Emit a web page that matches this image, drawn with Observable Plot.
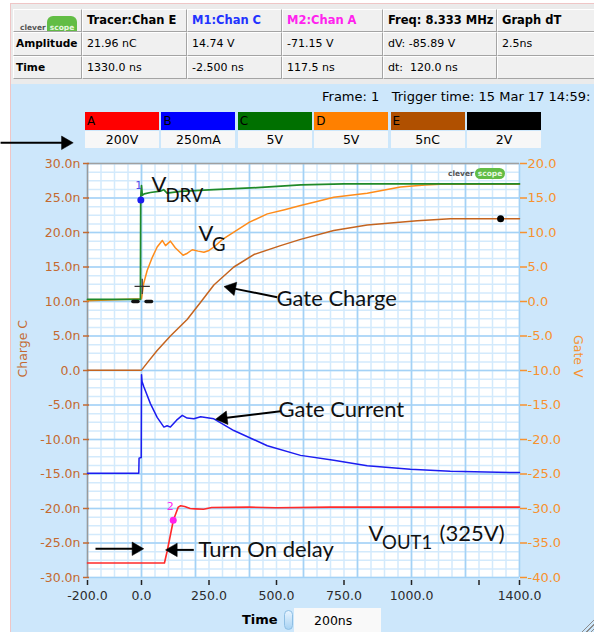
<!DOCTYPE html>
<html><head><meta charset="utf-8">
<script src="https://cdn.jsdelivr.net/npm/d3@7"></script>
<script src="https://cdn.jsdelivr.net/npm/@observablehq/plot@0.6"></script>
<style>
body{margin:0;background:#fff;}
#root{position:relative;width:594px;height:632px;overflow:hidden;font-family:"DejaVu Sans",sans-serif;color:#000;}
.abs{position:absolute;box-sizing:border-box;}
.cell{position:absolute;box-sizing:border-box;background:#f0f0f0;border-right:1px solid #a4a4a4;border-bottom:1px solid #a4a4a4;border-left:1px solid #fff;border-top:1px solid #fff;font-size:11px;white-space:pre;padding-left:4px;overflow:hidden;}
.logo{position:absolute;display:flex;align-items:center;font-family:"DejaVu Sans",sans-serif;font-weight:bold;font-size:7.5px;}
.logo .c{color:#555;padding-right:1px;}
.logo .s{background:#62bd45;color:#e8f7e0;border-radius:6px;padding:1px 3px;}
</style></head>
<body><div id="root">
<div class="abs" style="left:10px;top:3px;width:584px;height:81px;background:#ebebeb;border-top:1px solid #efc6c6;border-left:1px solid #efc6c6;"></div>
<div class="abs" style="left:10px;top:84px;width:584px;height:548px;background:#cde7fb;border-left:1px solid #efc6c6;"></div>
<div id="table"></div>
<div class="abs" id="frametext" style="left:322px;top:89px;font-size:13px;white-space:pre;"></div>
<div id="legend"></div>
<div id="plot" class="abs" style="left:0;top:0;"></div>
<div class="logo" style="left:448px;top:168px;"><span class="c">clever</span><span class="s">scope</span></div>
<div class="abs" style="left:242px;top:612px;font-weight:bold;font-size:13px;">Time</div>
<div class="abs" style="left:284px;top:610px;width:9px;height:20px;border-radius:5px;background:linear-gradient(#e8f4ff,#a9d3f3);border:1px solid #8fbfe4;"></div>
<div class="abs" style="left:294px;top:608px;width:87px;height:26px;background:#f9f9f9;"></div>
<div class="abs" style="left:314px;top:613px;font-size:12.5px;">200ns</div>
<div class="abs" style="left:580px;top:618px;width:14px;height:14px;background:repeating-linear-gradient(135deg,transparent 0 2px,#8a8a8a 2px 3px);clip-path:polygon(100% 0,100% 100%,0 100%);"></div>
</div>
<script>
// ---------- table / legend text ----------
const tableHead = ["", "Tracer:Chan E", "M1:Chan C", "M2:Chan A", "Freq: 8.333 MHz", "Graph dT"];
const tableAmp  = ["Amplitude", "21.96 nC", "14.74 V", "-71.15 V", "dV: -85.89 V", "2.5ns"];
const tableTime = ["Time", "1330.0 ns", "-2.500 ns", "117.5 ns", "dt:  120.0 ns", ""];
const frameInfo = "Frame: 1   Trigger time: 15 Mar 17 14:59:";
const channelLetters = ["A", "B", "C", "D", "E", ""];
const channelScales = ["200V", "250mA", "5V", "5V", "5nC", "2V"];

// ---------- axes ----------
const xTicks = [-200, 0, 250, 500, 750, 1000, 1250, 1400];
const yTicks = [-30, -25, -20, -15, -10, -5, 0, 5, 10, 15, 20, 25, 30];

// ---------- traces (time ns, value in left-axis units) ----------
// C: V_DRV (green)
const tDrv = [-200, -4, -3, 0, 3, 10, 33, 70, 82, 95, 144, 268, 428, 590, 750, 1400];
const vDrv = [10.3, 10.3, 25.0, 26.8, 25.4, 25.6, 25.8, 26.0, 26.2, 25.7, 25.95, 26.2, 26.5, 26.9, 27.05, 27.05];
// D: V_G (orange)
const tVg = [-200, 0, 8, 21, 40, 58, 77, 89, 100, 107, 125, 154, 170, 188, 210, 231, 250, 268, 300, 342, 400, 466, 530, 589, 650, 712, 836, 959, 1050, 1107, 1400];
const vVg = [10.1, 10.4, 12.6, 14.5, 16.4, 17.9, 18.85, 18.1, 18.5, 18.75, 17.8, 16.7, 17.0, 17.5, 17.3, 17.15, 17.4, 17.9, 19.0, 20.05, 21.5, 22.7, 23.3, 23.9, 24.5, 25.1, 25.7, 26.6, 26.9, 27.0, 27.0];
// E: Gate charge (brown)
const tQg = [-200, 0, 27, 58, 107, 169, 219, 268, 342, 416, 515, 589, 712, 836, 1021, 1144, 1400];
const vQg = [0.05, 0.05, 1.4, 2.9, 5.0, 7.4, 9.9, 12.4, 15.0, 16.8, 18.1, 19.0, 20.3, 21.1, 21.7, 22.0, 22.0];
// B: Gate current (blue)
const tIg = [-200, -10, -9, -1, 0, 2, 9, 33, 58, 83, 95, 107, 130, 151, 169, 194, 219, 268, 342, 466, 589, 712, 836, 996, 1144, 1400];
const vIg = [-14.9, -14.9, -12.7, -12.6, -0.6, -1.6, -2.4, -4.8, -6.8, -8.2, -8.0, -8.2, -7.2, -6.5, -6.9, -7.0, -6.7, -7.0, -8.7, -10.9, -12.3, -13.0, -13.8, -14.3, -14.6, -14.8];
// A: V_OUT1 (red)
const tOut = [-200, 85, 95, 118, 136, 145, 160, 180, 200, 230, 260, 400, 500, 700, 1400];
const vOut = [-27.9, -27.9, -26.2, -21.7, -19.8, -19.6, -19.7, -20.0, -20.05, -20.1, -19.85, -19.8, -19.9, -19.8, -19.8];

// ---------- cursors / markers ----------
const m1 = {t: -2.5, v: 24.7, label: "1"};
const m2 = {t: 117.5, v: -21.7, label: "2"};
const tracer = {t: 1330, v: 22.0};
const cross = {t: 2.6, v: 12.2};
const dashT1 = [-32, 17];
const dashT2 = [-13, 37];
const dashV = [10.0, 10.0];

// ---------- annotations (data coordinates) ----------
const noteMain = ["V", "V", "Gate Charge", "Gate Current", "Turn On delay", "V", "(325V)"];
const noteMainT = [37, 211, 500, 507, 211, 841, 1104];
const noteMainV = [25.94, 18.84, 9.42, -6.67, -26.96, -24.64, -24.64];
const noteSub = ["DRV", "G", "OUT1"];
const noteSubT = [89, 261, 891];
const noteSubV = [24.49, 17.39, -25.8];
const arrowT1 = [502.6, 514.8, 193.7, -170.4, -522];
const arrowV1 = [10.62, -5.9, -26.0, -25.84, 33.0];
const arrowT2 = [317.4, 286.3, 101.1, -3.7, -265];
const arrowV2 = [12.07, -7.0, -26.0, -25.84, 33.0];

// ---------- build table ----------
const colX = [13, 82, 187, 282, 383, 497, 600];
const rowY = [9, 32, 55.5, 79];
const tableEl = document.getElementById("table");
[tableHead, tableAmp, tableTime].forEach((row, r) => {
  row.forEach((txt, c) => {
    const d = document.createElement("div");
    d.className = "cell";
    d.style.left = colX[c] + "px";
    d.style.top = rowY[r] + "px";
    d.style.width = (colX[c + 1] - colX[c]) + "px";
    d.style.height = (rowY[r + 1] - rowY[r]) + "px";
    d.style.lineHeight = (rowY[r + 1] - rowY[r] - 2) + "px";
    if (r === 0 || c === 0) { d.style.fontWeight = "bold"; d.style.fontSize = c === 0 ? "10.6px" : "11.5px"; }
    if (c === 0) d.style.paddingLeft = "2px";
    if (r === 0 && c === 2) d.style.color = "#2233ff";
    if (r === 0 && c === 3) d.style.color = "#ff22ee";
    if (r === 0 && c === 0) {
      d.innerHTML = '<div class="logo" style="left:6px;top:6px;"><span class="c">clever</span><span class="s">scope</span></div>';
    } else d.textContent = txt;
    tableEl.appendChild(d);
  });
});
document.getElementById("frametext").textContent = frameInfo;

// ---------- build legend ----------
const legendColors = ["#ff0000", "#0000ff", "#007000", "#ff8000", "#b05000", "#000000"];
const legendEl = document.getElementById("legend");
channelLetters.forEach((L, i) => {
  const left = 85 + i * 76.4;
  const box = document.createElement("div");
  box.className = "abs";
  Object.assign(box.style, {left: left + "px", top: "112px", width: "74px", height: "18px", background: legendColors[i], fontSize: "12px", lineHeight: "18px", paddingLeft: "2px"});
  box.textContent = L;
  legendEl.appendChild(box);
  const lab = document.createElement("div");
  lab.className = "abs";
  Object.assign(lab.style, {left: left + "px", top: "131px", width: "74px", height: "17px", background: "#f7f7f7", fontSize: "12.5px", lineHeight: "17px", textAlign: "center"});
  lab.textContent = channelScales[i];
  legendEl.appendChild(lab);
});

// ---------- plot ----------
const W = 594, H = 632, mT = 163, mB = 55, mL = 87, mR = 75;
const xDomain = [-200, 1400], yDomain = [-30, 30];
const kx = (W - mL - mR) / (xDomain[1] - xDomain[0]);   // px per ns
const ky = (H - mT - mB) / (yDomain[1] - yDomain[0]);   // px per unit
const zipTV = (T, V) => T.map((t, i) => ({t, v: V[i]}));
const leftColor = "#c46a30", rightColor = "#f7922f";
const minorX = d3.range(-200, 1401, 50), majorX = d3.range(-200, 1401, 200);
const minorY = d3.range(-30, 30.01, 1.25), majorY = d3.range(-30, 30.01, 5);
const notesMain = noteMain.map((s, i) => ({s, t: noteMainT[i], v: noteMainV[i]}));
const notesSub = noteSub.map((s, i) => ({s, t: noteSubT[i], v: noteSubV[i]}));
const headBack = 4.5; // px from tip to head centre
const arrows = arrowT1.map((t, i) => {
  const dxp = (arrowT2[i] - t) * kx, dyp = -(arrowV2[i] - arrowV1[i]) * ky;
  const L = Math.hypot(dxp, dyp), ux = dxp / L, uy = dyp / L;
  const ang = Math.atan2(dyp, dxp) * 180 / Math.PI + 90;
  return {t1: t, v1: arrowV1[i], t2: arrowT2[i], v2: arrowV2[i],
          ht: arrowT2[i] - ux * headBack / kx, hv: arrowV2[i] + uy * headBack / ky,
          st: arrowT2[i] - ux * 6 / kx, sv: arrowV2[i] + uy * 6 / ky, ang};
});
const dashes = dashT1.map((t, i) => ({t1: t, t2: dashT2[i], v: dashV[i]}));

const chart = Plot.plot({
  width: W, height: H,
  marginTop: mT, marginBottom: mB, marginLeft: mL, marginRight: mR,
  x: {domain: xDomain},
  y: {domain: yDomain},
  style: {background: "transparent", fontFamily: "DejaVu Sans", fontSize: "12.5px", overflow: "visible"},
  marks: [
    Plot.frame({fill: "white", stroke: null}),
    Plot.ruleX(minorX, {stroke: "#d3eafc", strokeWidth: 1.5}),
    Plot.ruleY(minorY, {stroke: "#d3eafc", strokeWidth: 1.5}),
    Plot.ruleX(majorX, {stroke: "#a4d2f6", strokeWidth: 1.6}),
    Plot.ruleY(majorY, {stroke: "#a4d2f6", strokeWidth: 1.6}),
    Plot.ruleX([-200], {stroke: "#9a9a9a", strokeWidth: 1.5}),
    Plot.ruleY([30], {stroke: "#a0a0a0", strokeWidth: 1.5}),
    Plot.axisY({anchor: "left", ticks: yTicks, tickFormat: d => d === 0 ? "0.0" : d.toFixed(1) + "n", tickSize: 6, tickPadding: 3, dx: 2, stroke: leftColor, fill: leftColor, strokeWidth: 1.5, label: null}),
    Plot.axisY({anchor: "right", ticks: yTicks, tickFormat: d => (d - 10).toFixed(1), tickSize: 7, tickPadding: 1, stroke: rightColor, fill: rightColor, strokeWidth: 1.5, fontSize: 13, label: null}),
    Plot.axisX({ticks: xTicks, tickFormat: d => d === 1250 ? "" : d.toFixed(1), tickSize: 5, tickPadding: 6, dy: 3, stroke: "#222", fill: "#2b2b2b", strokeWidth: 1.5, label: null}),
    Plot.text(["Charge C"], {frameAnchor: "left", rotate: -90, dx: -65, dy: 7, fill: leftColor, fontSize: 12.5}),
    Plot.text(["Gate V"], {frameAnchor: "right", rotate: 90, dx: 58, dy: 7, fill: rightColor, fontSize: 12.5}),
    Plot.line(zipTV(tOut, vOut), {x: "t", y: "v", stroke: "#ff2a2a", strokeWidth: 1.6}),
    Plot.line(zipTV(tIg, vIg), {x: "t", y: "v", stroke: "#1c1cf0", strokeWidth: 1.5}),
    Plot.line(zipTV(tQg, vQg), {x: "t", y: "v", stroke: "#c5641f", strokeWidth: 1.5}),
    Plot.line(zipTV(tVg, vVg), {x: "t", y: "v", stroke: "#ff8c1a", strokeWidth: 1.5}),
    Plot.line(zipTV(tDrv, vDrv), {x: "t", y: "v", stroke: "#1f8a2a", strokeWidth: 1.7}),
    Plot.link(dashes, {x1: "t1", x2: "t2", y1: "v", y2: "v", stroke: "#111", strokeWidth: 3.5, strokeLinecap: "round"}),
    Plot.dot([cross], {x: "t", y: "v", symbol: "plus", r: 5, stroke: "#333", strokeWidth: 1.2}),
    Plot.dot([m1], {x: "t", y: "v", r: 3.5, fill: "#1c1cf0"}),
    Plot.text([m1], {x: "t", y: "v", text: "label", dx: -2, dy: -15, fill: "#4a4ae8", fontSize: 11}),
    Plot.dot([m2], {x: "t", y: "v", r: 3.5, fill: "#ff22ee"}),
    Plot.text([m2], {x: "t", y: "v", text: "label", dx: -3, dy: -14, fill: "#ff22ee", fontSize: 11}),
    Plot.dot([tracer], {x: "t", y: "v", r: 3.5, fill: "#000"}),
    Plot.text(notesMain, {x: "t", y: "v", text: "s", textAnchor: "start", lineAnchor: "bottom", fontFamily: "Lato", fontSize: 22, fill: "#111"}),
    Plot.text(notesSub, {x: "t", y: "v", text: "s", textAnchor: "start", lineAnchor: "bottom", fontFamily: "Lato", fontSize: 18.5, fill: "#111"}),
    Plot.link(arrows, {x1: "t1", y1: "v1", x2: "st", y2: "sv", stroke: "#000", strokeWidth: 2}),
    Plot.dot(arrows, {x: "ht", y: "hv", symbol: "triangle", rotate: "ang", r: 5, fill: "#000", stroke: "#000", strokeWidth: 0.5})
  ]
});
document.getElementById("plot").appendChild(chart);
</script>
</body></html>
